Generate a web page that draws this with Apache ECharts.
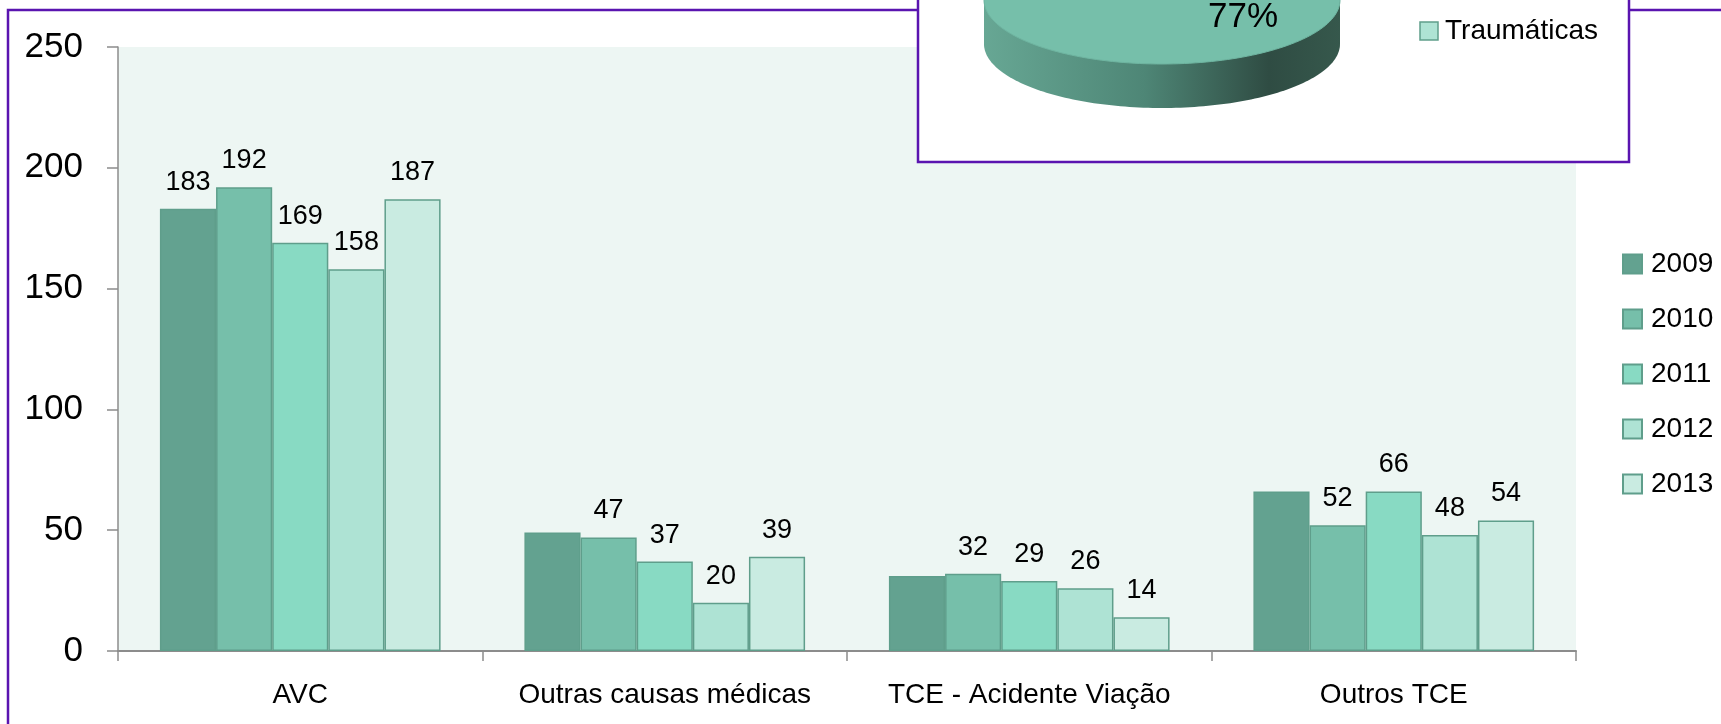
<!DOCTYPE html>
<html><head><meta charset="utf-8">
<script src="https://cdn.jsdelivr.net/npm/echarts@6/dist/echarts.min.js"></script>
<style>html,body{margin:0;padding:0;background:#fff;overflow:hidden}#c{width:1721px;height:724px}</style>
</head><body><div id="c"></div>
<script>
// ---- data ----
const categories = ['AVC', 'Outras causas médicas', 'TCE - Acidente Viação', 'Outros TCE'];
const years = ['2009', '2010', '2011', '2012', '2013'];
const v2009 = [183, 49, 31, 66];
const v2010 = [192, 47, 32, 52];
const v2011 = [169, 37, 29, 66];
const v2012 = [158, 20, 26, 48];
const v2013 = [187, 39, 14, 54];
const labelShown2009 = [true, false, false, false];
const yTickValues = [0, 50, 100, 150, 200, 250];
const pieLabel = '77%';
const pieLegendName = 'Traumáticas';

// ---- styles ----
const FONT = "'Liberation Sans', Arial, sans-serif";
const colors = ['#63a290', '#76bfaa', '#88dac3', '#aee3d4', '#c9ebe1'];
const borderColor = '#5f9e8b';
const purple = '#5a14b0';

const seriesValues = [v2009, v2010, v2011, v2012, v2013];

const series = years.map((y, i) => ({
  name: y,
  type: 'bar',
  barGap: 0,
  barCategoryGap: '23%',
  itemStyle: { color: colors[i], borderColor: borderColor, borderWidth: 1.5 },
  label: { show: true, position: 'top', distance: 13, fontSize: 27, color: '#000', fontFamily: FONT },
  data: seriesValues[i].map((v, j) => (i === 0 && !labelShown2009[j]) ? { value: v, label: { show: false } } : v)
}));

function ellipsePts(cx, cy, rx, ry, a0, a1, n) {
  const pts = [];
  for (let k = 0; k <= n; k++) {
    const a = a0 + (a1 - a0) * k / n;
    pts.push([cx + rx * Math.cos(a), cy + ry * Math.sin(a)]);
  }
  return pts;
}
const pcx = 1162, pcy = 0, prx = 178, pry = 64, ph = 44;
const sidePts = [[pcx - prx, pcy]].concat(ellipsePts(pcx, pcy + ph, prx, pry, Math.PI, 0, 120)).concat([[pcx + prx, pcy]]);
const topPts = ellipsePts(pcx, pcy, prx, pry, 0, Math.PI * 2, 200);

const chart = echarts.init(document.getElementById('c'), null, { renderer: 'canvas' });
chart.setOption({
  animation: false,
  backgroundColor: '#fff',
  textStyle: { fontFamily: FONT },
  grid: { left: 118, right: 145, top: 47, bottom: 73, show: true, backgroundColor: '#edf6f3', borderWidth: 0 },
  legend: {
    data: years,
    orient: 'vertical',
    left: 1617,
    top: 245,
    itemWidth: 19,
    itemHeight: 19,
    itemGap: 27,
    icon: 'rect',
    textStyle: { fontSize: 28, color: '#000', fontFamily: FONT, padding: [0, 0, 0, 4] }
  },
  xAxis: {
    type: 'category',
    data: categories,
    axisLine: { lineStyle: { color: '#8c8c8c', width: 2 } },
    axisTick: { show: true, length: 10, lineStyle: { color: '#8c8c8c', width: 1.5 } },
    axisLabel: { interval: 0, fontSize: 28, color: '#000', margin: 30, fontFamily: FONT }
  },
  yAxis: {
    type: 'value',
    min: yTickValues[0],
    max: yTickValues[yTickValues.length - 1],
    interval: yTickValues[1] - yTickValues[0],
    axisLine: { show: true, lineStyle: { color: '#8c8c8c', width: 1.5 } },
    axisTick: { show: true, length: 11, lineStyle: { color: '#8c8c8c', width: 1.5 } },
    splitLine: { show: false },
    axisLabel: { fontSize: 35, color: '#000', margin: 35, fontFamily: FONT }
  },
  series: series,
  graphic: [
    { type: 'rect', z: 50, shape: { x: 8, y: 10, width: 1800, height: 800 }, style: { fill: 'none', stroke: purple, lineWidth: 2.5 } },
    { type: 'rect', z: 60, shape: { x: 918, y: -20, width: 711, height: 182 }, style: { fill: '#fff', stroke: purple, lineWidth: 2.5 } },
    { type: 'polygon', z: 61, shape: { points: sidePts }, style: {
        fill: new echarts.graphic.LinearGradient(0, 0, 1, 0, [
          { offset: 0, color: '#67a794' }, { offset: 0.45, color: '#4e8676' },
          { offset: 0.8, color: '#2f4c43' }, { offset: 1, color: '#36584c' }
        ]), stroke: 'none' } },
    { type: 'polygon', z: 62, shape: { points: topPts }, style: { fill: '#76bfaa', stroke: '#6fb5a1', lineWidth: 1 } },
    { type: 'text', z: 63, x: 1243, y: 17, style: { text: pieLabel, fontSize: 35, fill: '#000', fontFamily: FONT, align: 'center', verticalAlign: 'middle' } },
    { type: 'rect', z: 63, shape: { x: 1420, y: 22, width: 18, height: 18 }, style: { fill: '#aee3d4', stroke: '#5f9e8b', lineWidth: 1.5 } },
    { type: 'text', z: 63, x: 1445, y: 31, style: { text: pieLegendName, fontSize: 28, fill: '#000', fontFamily: FONT, align: 'left', verticalAlign: 'middle' } }
  ]
});
</script>
</body></html>
